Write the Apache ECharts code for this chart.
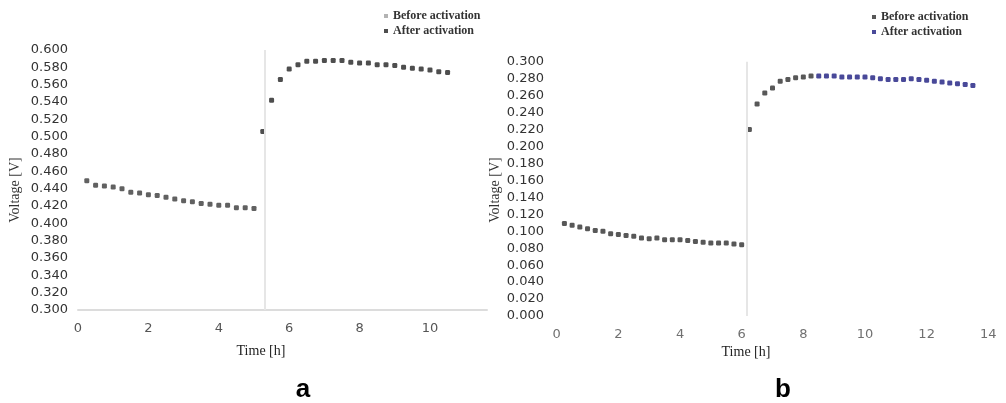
<!DOCTYPE html>
<html>
<head>
<meta charset="utf-8">
<script src="https://cdn.jsdelivr.net/npm/echarts@6/dist/echarts.min.js"></script>
<style>
  html, body { margin: 0; padding: 0; background: #ffffff; }
  #chart { width: 1006px; height: 403px; }
</style>
</head>
<body>
<div id="chart"></div>
<script>
// Panel a: cell voltage before and after activation
const timeBeforeA = [0.25, 0.5, 0.75, 1.0, 1.25, 1.5, 1.75, 2.0, 2.25, 2.5, 2.75, 3.0, 3.25, 3.5, 3.75, 4.0, 4.25, 4.5, 4.75, 5.0];
const voltBeforeA = [0.449, 0.444, 0.443, 0.442, 0.440, 0.436, 0.435, 0.433, 0.432, 0.430, 0.428, 0.426, 0.425, 0.423, 0.422, 0.421, 0.421, 0.418, 0.418, 0.417];
const timeAfterA = [5.25, 5.5, 5.75, 6.0, 6.25, 6.5, 6.75, 7.0, 7.25, 7.5, 7.75, 8.0, 8.25, 8.5, 8.75, 9.0, 9.25, 9.5, 9.75, 10.0, 10.25, 10.5];
const voltAfterA = [0.506, 0.542, 0.566, 0.578, 0.583, 0.587, 0.587, 0.588, 0.588, 0.588, 0.586, 0.585, 0.585, 0.583, 0.583, 0.582, 0.580, 0.579, 0.578, 0.577, 0.575, 0.574];
const activationA = 5.31;

// Panel b: dark points run through the rise, blue points after it
const timeBeforeB = [0.25, 0.5, 0.75, 1.0, 1.25, 1.5, 1.75, 2.0, 2.25, 2.5, 2.75, 3.0, 3.25, 3.5, 3.75, 4.0, 4.25, 4.5, 4.75, 5.0, 5.25, 5.5, 5.75, 6.0,
                     6.25, 6.5, 6.75, 7.0, 7.25, 7.5, 7.75, 8.0, 8.25];
const voltBeforeB = [0.109, 0.107, 0.105, 0.103, 0.101, 0.100, 0.097, 0.096, 0.095, 0.094, 0.092, 0.091, 0.092, 0.090, 0.090, 0.090, 0.089, 0.088, 0.087, 0.086, 0.086, 0.086, 0.085, 0.084,
                     0.220, 0.250, 0.263, 0.269, 0.277, 0.279, 0.281, 0.282, 0.283];
const timeAfterB = [8.5, 8.75, 9.0, 9.25, 9.5, 9.75, 10.0, 10.25, 10.5, 10.75, 11.0, 11.25, 11.5, 11.75, 12.0, 12.25, 12.5, 12.75, 13.0, 13.25, 13.5];
const voltAfterB = [0.283, 0.283, 0.283, 0.282, 0.282, 0.282, 0.282, 0.281, 0.280, 0.279, 0.279, 0.279, 0.280, 0.279, 0.278, 0.277, 0.276, 0.275, 0.274, 0.273, 0.272];
const activationB = 6.16;

const xTicksA = { min: 0, max: 11.62, interval: 2 };
const yTicksA = { min: 0.3, max: 0.6, interval: 0.02 };
const xTicksB = { min: 0, max: 14, interval: 2 };
const yTicksB = { min: 0, max: 0.3, interval: 0.02 };

const zip = (xs, ys) => xs.map((x, i) => [x, ys[i]]);

const labelFont = { fontFamily: 'DejaVu Sans', fontSize: 13 };
const serif = 'Liberation Serif';

function valueY(idx, ticks, labelColor, margin) {
  return {
    type: 'value', gridIndex: idx, min: ticks.min, max: ticks.max, interval: ticks.interval,
    axisLine: { show: false }, axisTick: { show: false }, splitLine: { show: false },
    axisLabel: Object.assign({ color: labelColor, margin: margin, formatter: v => v.toFixed(3) }, labelFont)
  };
}
function valueX(idx, ticks, labelColor, showLine) {
  return {
    type: 'value', gridIndex: idx, min: ticks.min, max: ticks.max, interval: ticks.interval,
    axisLine: { show: showLine, lineStyle: { color: '#dcdcdc', width: 2 } },
    axisTick: { show: false }, splitLine: { show: false },
    axisLabel: Object.assign({ color: labelColor, margin: 12, showMaxLabel: ticks.max % ticks.interval === 0,
      formatter: v => String(Math.round(v)) }, labelFont)
  };
}
function scatter(name, idx, data, color, lineX) {
  const s = {
    name: name, type: 'scatter', xAxisIndex: idx, yAxisIndex: idx, data: data,
    symbol: 'roundRect', symbolSize: 5, itemStyle: { color: color }, z: 3
  };
  if (lineX !== undefined) {
    s.markLine = {
      silent: true, symbol: 'none', animation: false,
      lineStyle: { color: '#e6e6e6', width: 2, type: 'solid' },
      label: { show: false },
      data: [{ xAxis: lineX }]
    };
  }
  return s;
}
function legendAt(left, top, items) {
  return {
    left: left, top: top, orient: 'vertical', icon: 'rect', itemWidth: 4, itemHeight: 4, itemGap: 2,
    selectedMode: false, padding: 0, data: items,
    formatter: n => n.slice(2),
    textStyle: { fontFamily: serif, fontSize: 12, fontWeight: 'bold', color: '#333', lineHeight: 13 }
  };
}

const chart = echarts.init(document.getElementById('chart'), null, { renderer: 'canvas' });
chart.setOption({
  animation: false,
  backgroundColor: '#ffffff',
  grid: [
    { left: 78, top: 50, width: 409, height: 260 },
    { left: 556.7, top: 61.7, width: 431.6, height: 254.3 }
  ],
  xAxis: [valueX(0, xTicksA, '#555555', true), valueX(1, xTicksB, '#707070', false)],
  yAxis: [valueY(0, yTicksA, '#333333', 10), valueY(1, yTicksB, '#333333', 12.7)],
  legend: [
    legendAt(384, 9.5, [{ name: 'a:Before activation', itemStyle: { color: '#a0a0a0' } }, { name: 'a:After activation' }]),
    legendAt(872, 10.5, [{ name: 'b:Before activation' }, { name: 'b:After activation' }])
  ],
  series: [
    scatter('a:Before activation', 0, zip(timeBeforeA, voltBeforeA), '#3a3a3a', activationA),
    scatter('a:After activation', 0, zip(timeAfterA, voltAfterA), '#222222'),
    scatter('b:Before activation', 1, zip(timeBeforeB, voltBeforeB), '#2e2e2e', activationB),
    scatter('b:After activation', 1, zip(timeAfterB, voltAfterB), '#1c1c80')
  ],
  graphic: [
    { type: 'text', x: 15, y: 190, rotation: Math.PI / 2,
      style: { text: 'Voltage [V]', font: '14px "Liberation Serif"', fill: '#333', align: 'center', verticalAlign: 'middle' } },
    { type: 'text', x: 495, y: 190, rotation: Math.PI / 2,
      style: { text: 'Voltage [V]', font: '14px "Liberation Serif"', fill: '#333', align: 'center', verticalAlign: 'middle' } },
    { type: 'text', x: 261, y: 351,
      style: { text: 'Time [h]', font: '14px "Liberation Serif"', fill: '#222', align: 'center', verticalAlign: 'middle' } },
    { type: 'text', x: 746, y: 352,
      style: { text: 'Time [h]', font: '14px "Liberation Serif"', fill: '#222', align: 'center', verticalAlign: 'middle' } },
    { type: 'text', x: 303, y: 390,
      style: { text: 'a', font: 'bold 26px "Liberation Sans"', fill: '#000', align: 'center', verticalAlign: 'middle' } },
    { type: 'text', x: 783, y: 390,
      style: { text: 'b', font: 'bold 26px "Liberation Sans"', fill: '#000', align: 'center', verticalAlign: 'middle' } }
  ]
});
</script>
</body>
</html>
